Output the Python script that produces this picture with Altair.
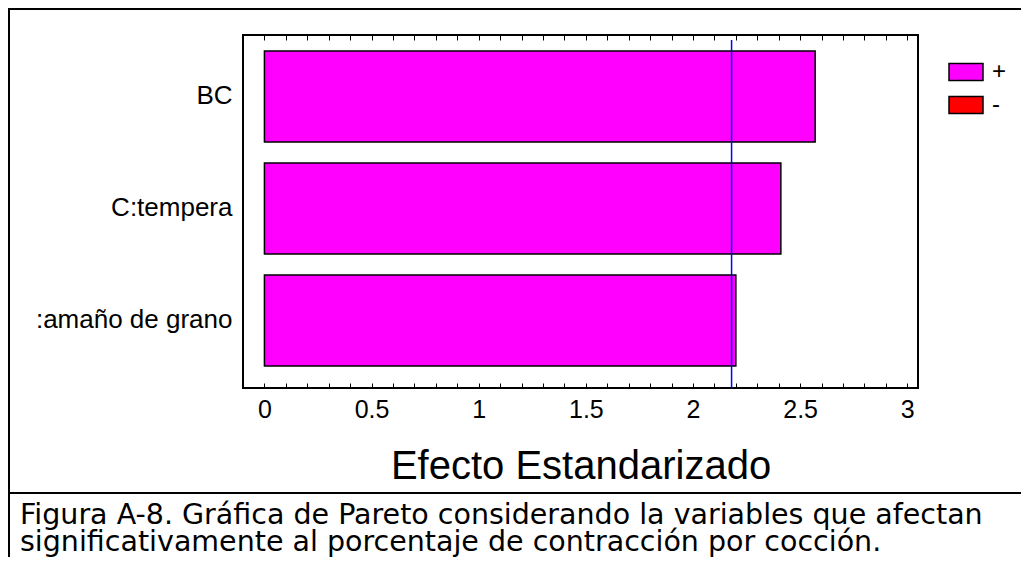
import altair as alt
import pandas as pd

# ---- data ----
factores = ["BC", "C:tempera", ":amaño de grano"]
efectos = [2.57, 2.41, 2.20]
signos = ["+", "+", "+"]
leyenda_dominio = ["+", "-"]
leyenda_colores = ["#FF00FF", "#FF0000"]
limite_critico = [2.18]
ticks_x = [round(i * 0.1, 1) for i in range(0, 31)]
titulo_x = "Efecto Estandarizado"
pie_figura = ("Figura A-8. Gráfica de Pareto considerando la variables que afectan\n"
              "significativamente al porcentaje de contracción por cocción.")

FONT = "Liberation Sans"
W, H = 675, 353

df = pd.DataFrame({"factor": factores, "efecto": efectos, "signo": signos})
df_lim = pd.DataFrame({"lim": limite_critico})
one = pd.DataFrame({"k": [0]})

xscale = alt.Scale(domain=[-0.1, 3.05], nice=False, zero=False)

bars = alt.Chart(df).mark_bar(stroke="black", strokeWidth=1.5).encode(
    y=alt.Y("factor:N", sort=factores, title=None,
            scale=alt.Scale(paddingInner=0.1875, paddingOuter=0.17, align=0.42),
            axis=alt.Axis(ticks=False, domain=False, labelFontSize=26, labelFont=FONT,
                          labelColor="black", labelPadding=11, labelLimit=0)),
    x=alt.X("efecto:Q", scale=xscale, title=titulo_x,
            axis=alt.Axis(orient="bottom", values=ticks_x, offset=-5, tickSize=5,
                          tickColor="black", tickWidth=1, domain=False, grid=False,
                          labelExpr="(round(datum.value*10) % 5 == 0) ? format(datum.value, '~g') : ''",
                          labelFontSize=25, labelFont=FONT, labelColor="black",
                          labelPadding=9, labelOverlap=False, labelFlush=False,
                          titleFontSize=40, titleFont=FONT, titleFontWeight="normal",
                          titleColor="black", titlePadding=24)),
    x2=alt.datum(0),
    color=alt.Color("signo:N",
                    scale=alt.Scale(domain=leyenda_dominio, range=leyenda_colores),
                    legend=alt.Legend(title=None, orient="none", legendX=705, legendY=19,
                                      symbolType="M-1,-0.5H1V0.5H-1Z", symbolSize=1156,
                                      symbolStrokeColor="black", symbolStrokeWidth=1.5,
                                      symbolOpacity=1, labelFontSize=24, labelFont=FONT,
                                      labelColor="black", labelOffset=8, rowPadding=3,
                                      padding=0)),
)

rule = alt.Chart(df_lim).mark_rule(color="#0000FF", strokeWidth=1.5).encode(
    x=alt.X("lim:Q", scale=xscale, title=None,
            axis=alt.Axis(orient="top", values=ticks_x, offset=-5, tickSize=5,
                          tickColor="black", tickWidth=1, domain=False, grid=False,
                          labels=False)),
    y=alt.value(5),
    y2=alt.value(H),
)

# page frame, caption separator and caption
frame_left = alt.Chart(one).mark_rule(color="black", strokeWidth=2).encode(
    x=alt.value(-234), y=alt.value(-26), y2=alt.value(H + 200))
frame_top = alt.Chart(one).mark_rule(color="black", strokeWidth=2).encode(
    x=alt.value(-235), x2=alt.value(W + 120), y=alt.value(-26))
sep = alt.Chart(one).mark_rule(color="black", strokeWidth=2).encode(
    x=alt.value(-235), x2=alt.value(W + 120), y=alt.value(458))
caption = alt.Chart(one).mark_text(
    align="left", baseline="alphabetic", fontSize=28.5, font="DejaVu Sans",
    color="black", lineBreak="\n", lineHeight=27).encode(
    x=alt.value(-223), y=alt.value(489), text=alt.value(pie_figura))

chart = alt.layer(bars, rule, frame_left, frame_top, sep, caption).resolve_axis(
    x="independent").properties(
    width=W, height=H,
    autosize=alt.AutoSizeParams(type="none"),
    padding={"left": 235, "top": 27, "right": 103, "bottom": 169},
).configure(background="white").configure_view(stroke="black", strokeWidth=2)

chart.save("out.html", embed_options={"renderer": "svg", "actions": False})
